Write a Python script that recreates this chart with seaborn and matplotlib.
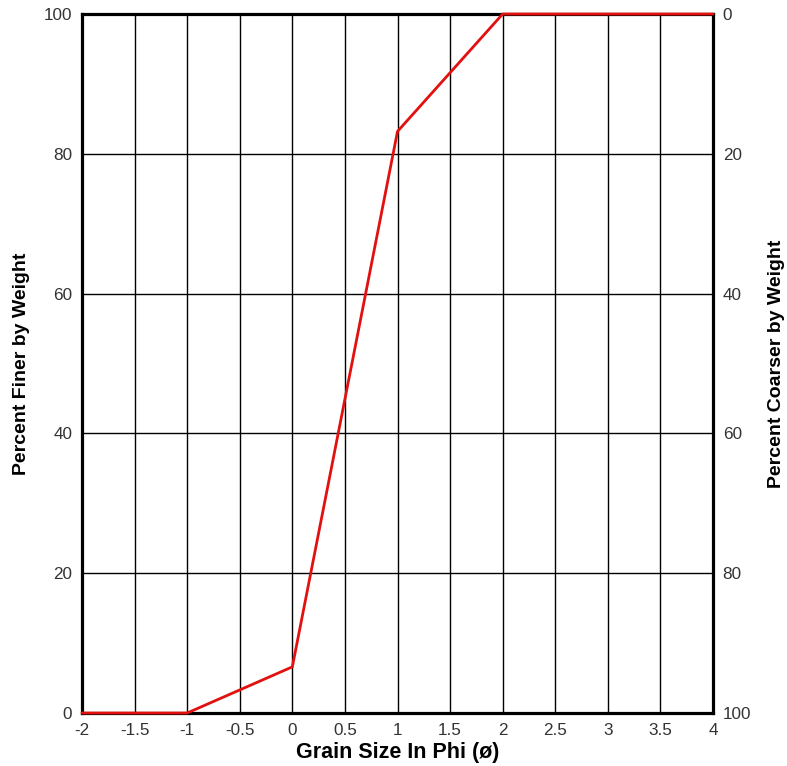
import matplotlib
matplotlib.use("Agg")
import matplotlib.pyplot as plt
import seaborn as sns
import pandas as pd

phi = [-2, -1, 0, 1, 2, 4]
finer = [0, 0, 6.6, 83.2, 100, 100]
x_ticks = [-2, -1.5, -1, -0.5, 0, 0.5, 1, 1.5, 2, 2.5, 3, 3.5, 4]
x_tick_labels = ["-2", "-1.5", "-1", "-0.5", "0", "0.5", "1", "1.5", "2", "2.5", "3", "3.5", "4"]
y_ticks = [0, 20, 40, 60, 80, 100]
right_labels = ["100", "80", "60", "40", "20", "0"]

sns.set_style("white")
plt.rcParams['font.family'] = ['Liberation Sans', 'DejaVu Sans']

df = pd.DataFrame({"phi": phi, "finer": finer})

fig = plt.figure(figsize=(7.87, 7.66), dpi=100)
ax = fig.add_axes([82/787, 53/766, 631/787, 699/766])

for xt in x_ticks:
    ax.axvline(xt, color="black", lw=1.0, zorder=1)
for yt in y_ticks:
    ax.axhline(yt, color="black", lw=1.0, zorder=1)

sns.lineplot(data=df, x="phi", y="finer", ax=ax, color="#e31010", lw=2, zorder=10)
for ln in ax.get_lines():
    if ln.get_color() == "#e31010":
        ln.set_clip_on(False)

ax.set_xlim(-2, 4)
ax.set_ylim(0, 100)
ax.set_xticks(x_ticks)
ax.set_xticklabels(x_tick_labels)
ax.set_yticks(y_ticks)
ax.tick_params(axis="both", length=0, labelsize=12.3, colors="#333333", pad=7)
ax.set_xlabel("Grain Size In Phi (ø)", fontsize=15.5, fontweight="bold", labelpad=3, color="black")
ax.set_ylabel("Percent Finer by Weight", fontsize=14, fontweight="bold", labelpad=10, color="black")
for s in ax.spines.values():
    s.set_color("black")
    s.set_linewidth(2.3)
    s.set_zorder(5)

ax.set_zorder(2)
ax2 = ax.twinx()
ax2.set_zorder(1)
ax2.set_ylim(0, 100)
ax2.set_yticks(y_ticks)
ax2.set_yticklabels(right_labels)
ax2.tick_params(axis="y", length=0, labelsize=12.3, colors="#333333", pad=7)
ax2.set_ylabel("Percent Coarser by Weight", fontsize=14, fontweight="bold", labelpad=12, color="black")
for s in ax2.spines.values():
    s.set_visible(False)

fig.savefig("out.png", dpi=100, facecolor="white")
